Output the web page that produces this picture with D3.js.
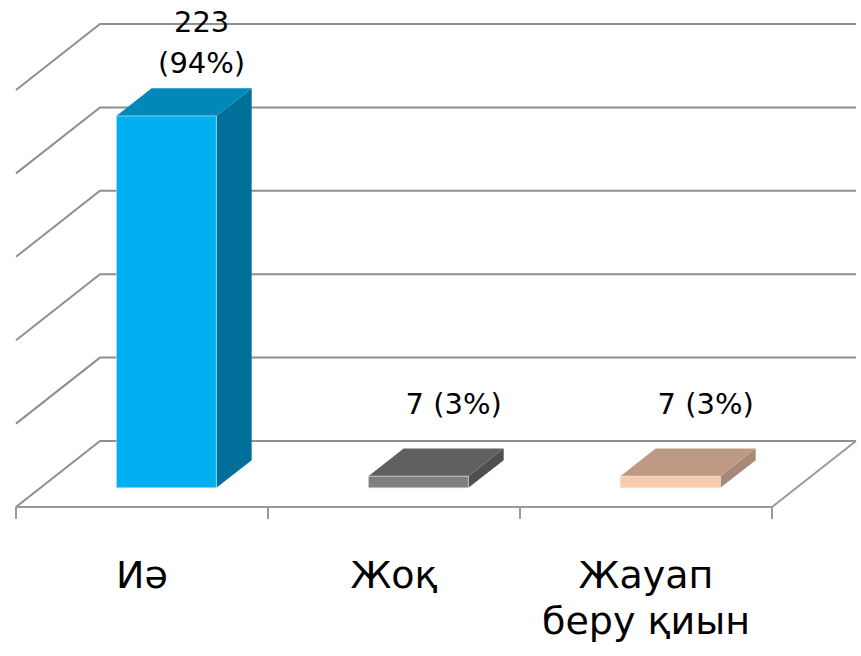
<!DOCTYPE html>
<html>
<head>
<meta charset="utf-8">
<script src="https://cdn.jsdelivr.net/npm/d3@7"></script>
<style>
  body { margin: 0; background: #fff; }
  svg text { font-family: "DejaVu Sans", "Noto Sans", sans-serif; fill: #000; }
</style>
</head>
<body>
<div id="chart"></div>
<script>
// data
const categories = ["Иә", "Жоқ", "Жауап беру қиын"];
const categoryLines = [["Иә"], ["Жоқ"], ["Жауап", "беру қиын"]];
const counts = [223, 7, 7];
const percents = [94, 3, 3];
const yTicks = [0, 50, 100, 150, 200, 250];

// front / top / side shades for each bar
const palette = [
    { front: "#00B0F0", top: "#0088BA", side: "#006F99" },
    { front: "#7F7F7F", top: "#606060", side: "#4F4F4F" },
    { front: "#F8CBAD", top: "#BE9A84", side: "#A88876" }
];

var width = 861, height = 656;
const svg = d3.select("#chart")
    .append("svg")
    .attr("width", width)
    .attr("height", height);

// plot box (front plane) and the depth vector of the 3d floor
var left = 16, right = 772;
var depthX = 84, depthY = -66;
var z0 = 0.29, z1 = 0.71;   // bars sit in the middle of the depth

const xscale = d3.scaleBand()
    .domain(categories)
    .range([left, right])
    .paddingInner(0.603)
    .paddingOuter(0.3015);

const yscale = d3.scaleLinear()
    .domain([0, 250])
    .range([507, 90]);

const P = (x, y, z) => [x + z * depthX, y + z * depthY];
const line = pts => "M" + pts.map(p => p.join(",")).join("L");

const grid = svg.append("g");

// left wall + back wall gridlines
grid.selectAll(".gl")
    .data(yTicks)
    .enter()
    .append("path")
    .attr("d", t => line([P(left, yscale(t), 0), P(left, yscale(t), 1), P(right, yscale(t), 1)]))
    .attr("fill", "none")
    .attr("stroke", "#8f8f8f")
    .attr("stroke-width", 2);

// floor front and right edge
grid.append("path")
    .attr("d", line([P(left, yscale(0), 0), P(right, yscale(0), 0), P(right, yscale(0), 1)]))
    .attr("fill", "none")
    .attr("stroke", "#9a9a9a")
    .attr("stroke-width", 2);

// category tick marks
const bounds = categories.map(c => xscale(c) - xscale.step() * xscale.paddingInner() / 2)
    .concat([right]);
bounds[0] = left;
grid.selectAll(".tk")
    .data(bounds)
    .enter()
    .append("line")
    .attr("x1", d => d).attr("x2", d => d)
    .attr("y1", yscale(0)).attr("y2", yscale(0) + 12)
    .attr("stroke", "#9a9a9a")
    .attr("stroke-width", 2);

// 3d bars
const bars = svg.append("g");
categories.forEach((c, i) => {
    var x1 = xscale(c), x2 = x1 + xscale.bandwidth();
    var yb = yscale(0), yt = yscale(counts[i]);
    var col = palette[i];
    // side
    bars.append("path")
        .attr("d", line([P(x2, yb, z0), P(x2, yb, z1), P(x2, yt, z1), P(x2, yt, z0)]) + "Z")
        .attr("fill", col.side);
    // top
    bars.append("path")
        .attr("d", line([P(x1, yt, z0), P(x2, yt, z0), P(x2, yt, z1), P(x1, yt, z1)]) + "Z")
        .attr("fill", col.top);
    // front
    bars.append("path")
        .attr("d", line([P(x1, yb, z0), P(x2, yb, z0), P(x2, yt, z0), P(x1, yt, z0)]) + "Z")
        .attr("fill", col.front)
        .attr("stroke", "#e6e6e6")
        .attr("stroke-width", 0.6);

    // value label above back edge of the top face
    var lines = counts[i] > 100
        ? [String(counts[i]), "(" + percents[i] + "%)"]
        : [counts[i] + " (" + percents[i] + "%)"];
    var lx = P((x1 + x2) / 2, yt, z1)[0];
    var lastBase = P(x1, yt, z1)[1] - 34;
    var firstBase = Math.max(lastBase - (lines.length - 1) * 41, 32);
    lines.forEach((t, k) => {
        bars.append("text")
            .attr("x", lx)
            .attr("y", firstBase + k * 41)
            .attr("text-anchor", "middle")
            .attr("font-size", "29px")
            .text(t);
    });
});

// category labels
const cl = svg.append("g");
categories.forEach((c, i) => {
    var cx = xscale(c) + xscale.bandwidth() / 2;
    categoryLines[i].forEach((t, k) => {
        cl.append("text")
            .attr("x", cx)
            .attr("y", 588 + k * 46)
            .attr("text-anchor", "middle")
            .attr("font-size", "38px")
            .text(t);
    });
});
</script>
</body>
</html>
